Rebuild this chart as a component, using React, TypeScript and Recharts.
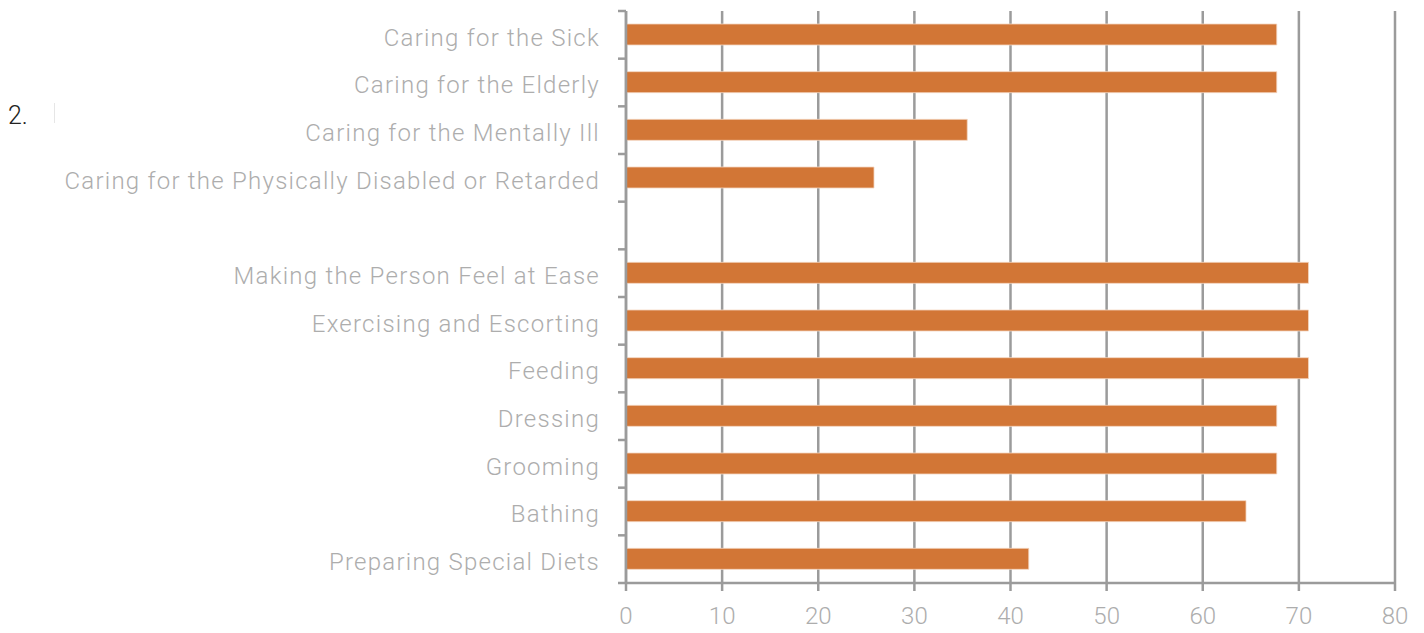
import { BarChart, Bar, XAxis, YAxis, CartesianGrid } from 'recharts';

const categories = [
  'Caring for the Sick',
  'Caring for the Elderly',
  'Caring for the Mentally Ill',
  'Caring for the Physically Disabled or Retarded',
  ' ',
  'Making the Person Feel at Ease',
  'Exercising and Escorting',
  'Feeding',
  'Dressing',
  'Grooming',
  'Bathing',
  'Preparing Special Diets',
];

const percents: (number | null)[] = [67.7, 67.7, 35.5, 25.8, null, 71.0, 71.0, 71.0, 67.7, 67.7, 64.5, 41.9];

const xTicks = [0, 10, 20, 30, 40, 50, 60, 70, 80];

const data = categories.map((name, i) => ({ name, value: percents[i] }));

const W = 1424;
const H = 633;
const TOP = 11;
const XAXIS_H = 50;
const BAND = (H - TOP - XAXIS_H) / categories.length;
const GRAY = '#9b9b9b';
const LABEL = '#adadad';
const FONT = 'Roboto, sans-serif';

function CategoryTick(props: any) {
  const { x, y, payload, index } = props;
  const lx = x + 18;
  return (
    <g>
      <line x1={lx} x2={lx + 8} y1={y - BAND / 2} y2={y - BAND / 2} stroke={GRAY} strokeWidth={2.5} />
      {index === categories.length - 1 && (
        <line x1={lx} x2={lx + 8} y1={y + BAND / 2} y2={y + BAND / 2} stroke={GRAY} strokeWidth={2.5} />
      )}
      <text
        x={x}
        y={y}
        dy="0.45em"
        textAnchor="end"
        fill={LABEL}
        fontSize={24}
        fontWeight={300}
        fontFamily={FONT}
        letterSpacing={1.25}
      >
        {payload.value}
      </text>
    </g>
  );
}

export default function App() {
  return (
    <div style={{ position: 'absolute', left: 0, top: 0, width: W, height: H, background: '#fff' }}>
      <div style={{ position: 'absolute', left: 8, top: 101, fontFamily: FONT, fontWeight: 300, fontSize: 25, color: '#222' }}>2.</div>
      <div style={{ position: 'absolute', left: 54, top: 103, width: 1, height: 20, background: '#e6e6e6' }} />
      <BarChart width={W} height={H} data={data} layout="vertical" margin={{ top: TOP, right: 29, left: 0, bottom: 0 }}>
        <CartesianGrid horizontal={false} stroke={GRAY} strokeWidth={2.5} />
        <XAxis
          type="number"
          domain={[0, 80]}
          ticks={xTicks}
          height={XAXIS_H}
          stroke={GRAY}
          strokeWidth={2.5}
          tickSize={8}
          tickMargin={16}
          tick={{ fill: LABEL, fontSize: 24, fontWeight: 300, fontFamily: FONT }}
        />
        <YAxis
          type="category"
          dataKey="name"
          width={626}
          stroke={GRAY}
          strokeWidth={2.5}
          tickLine={false}
          tickSize={8}
          tickMargin={18}
          interval={0}
          tick={<CategoryTick />}
        />
        <Bar dataKey="value" fill="#d27636" stroke="#f4d6c0" strokeWidth={0.8} barSize={21} isAnimationActive={false} />
      </BarChart>
    </div>
  );
}
